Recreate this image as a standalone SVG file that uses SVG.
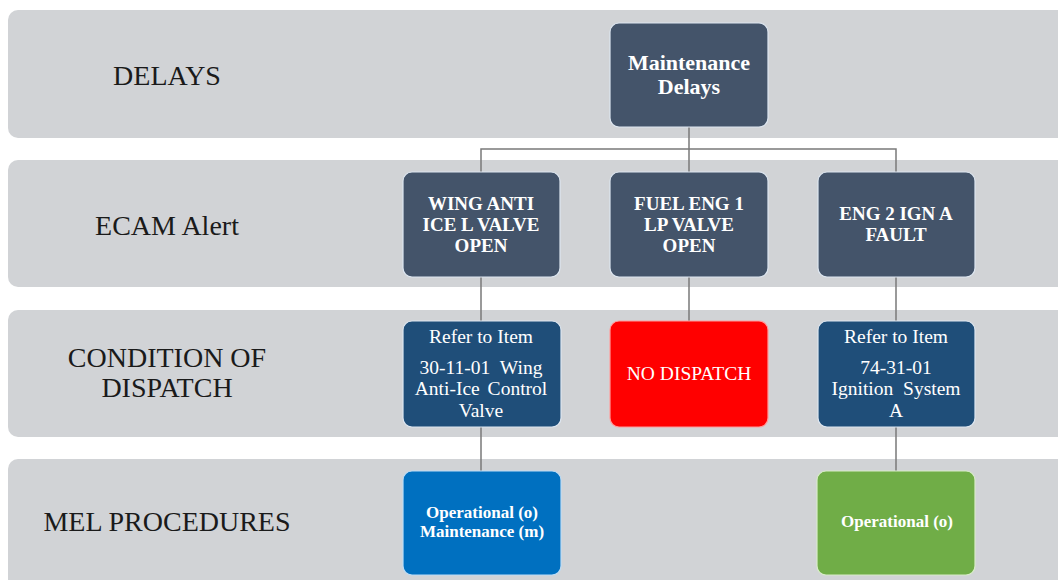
<svg xmlns="http://www.w3.org/2000/svg" width="1058" height="580" viewBox="0 0 1058 580">
<style>
.band{fill:#d1d3d6}
.lbl{font-family:"Liberation Serif","Times New Roman",serif;font-size:28px;fill:#1a1a1a;text-anchor:middle}
.node{stroke:#dde6f0;stroke-width:1.2}
.slate{fill:#44546a}
.navy{fill:#1f4e79}
.red{fill:#ff0000;stroke:#ff9c9c}
.blue{fill:#0070c0;stroke:#bcdcf5}
.green{fill:#70ad47;stroke:#d8ecc8}
.t{font-family:"Liberation Serif","Times New Roman",serif;fill:#ffffff;text-anchor:middle}
.b{font-weight:bold}
.conn{stroke:#7a7a7a;stroke-width:1.5;fill:none}
</style>
<g id="bands">
<rect class="band" x="8" y="10" width="1070" height="128" rx="10"/>
<rect class="band" x="8" y="160" width="1070" height="127" rx="10"/>
<rect class="band" x="8" y="310" width="1070" height="127" rx="10"/>
<rect class="band" x="8" y="459" width="1070" height="140" rx="10"/>
<text class="lbl" x="167" y="85">DELAYS</text>
<text class="lbl" x="167" y="235">ECAM Alert</text>
<text class="lbl" x="167" y="367">CONDITION OF</text>
<text class="lbl" x="167" y="397">DISPATCH</text>
<text class="lbl" x="167" y="531">MEL PROCEDURES</text>
</g>
<g id="connectors">
<path class="conn" d="M689 127V172M481 172V149H896V172"/>
<path class="conn" d="M481 277V321M689 277V321M896 277V321"/>
<path class="conn" d="M481 427V471M896 427V471"/>
</g>
<g id="n-maint">
<rect class="node slate" x="610" y="23" width="158" height="104" rx="9"/>
<text class="t b" x="689" y="70" font-size="22">Maintenance</text>
<text class="t b" x="689" y="94" font-size="22">Delays</text>
</g>
<g id="n-wing">
<rect class="node slate" x="403" y="172" width="157" height="105" rx="9"/>
<text class="t b" x="481" y="210" font-size="19">WING ANTI</text>
<text class="t b" x="481" y="231" font-size="19">ICE L VALVE</text>
<text class="t b" x="481" y="252" font-size="19">OPEN</text>
</g>
<g id="n-fuel">
<rect class="node slate" x="610" y="172" width="158" height="105" rx="9"/>
<text class="t b" x="689" y="210" font-size="19">FUEL ENG 1</text>
<text class="t b" x="689" y="231" font-size="19">LP VALVE</text>
<text class="t b" x="689" y="252" font-size="19">OPEN</text>
</g>
<g id="n-eng2">
<rect class="node slate" x="818" y="172" width="157" height="105" rx="9"/>
<text class="t b" x="896" y="220" font-size="19">ENG 2 IGN A</text>
<text class="t b" x="896" y="241" font-size="19">FAULT</text>
</g>
<g id="n-ref1">
<rect class="node navy" x="403" y="321" width="158" height="106" rx="9"/>
<text class="t" x="481" y="343" font-size="19.5">Refer to Item</text>
<text class="t" x="481" y="374" font-size="19.5" word-spacing="5">30-11-01 Wing</text>
<text class="t" x="481" y="395" font-size="19.5" word-spacing="3">Anti-Ice Control</text>
<text class="t" x="481" y="417" font-size="19.5">Valve</text>
</g>
<g id="n-nodispatch">
<rect class="node red" x="610" y="321" width="158" height="106" rx="9"/>
<text class="t" x="689" y="380" font-size="19.5" fill="#fff2f2">NO DISPATCH</text>
</g>
<g id="n-ref2">
<rect class="node navy" x="818" y="321" width="157" height="106" rx="9"/>
<text class="t" x="896" y="343" font-size="19.5">Refer to Item</text>
<text class="t" x="896" y="374" font-size="19.5">74-31-01</text>
<text class="t" x="896" y="395" font-size="19.5" word-spacing="5">Ignition System</text>
<text class="t" x="896" y="417" font-size="19.5">A</text>
</g>
<g id="n-opmaint">
<rect class="node blue" x="403" y="471" width="158" height="104" rx="9"/>
<text class="t b" x="482" y="518" font-size="17">Operational (o)</text>
<text class="t b" x="482" y="537" font-size="17">Maintenance (m)</text>
</g>
<g id="n-op">
<rect class="node green" x="817" y="471" width="158" height="104" rx="9"/>
<text class="t b" x="897" y="527" font-size="17" fill="#f2f7dc">Operational (o)</text>
</g>
</svg>
